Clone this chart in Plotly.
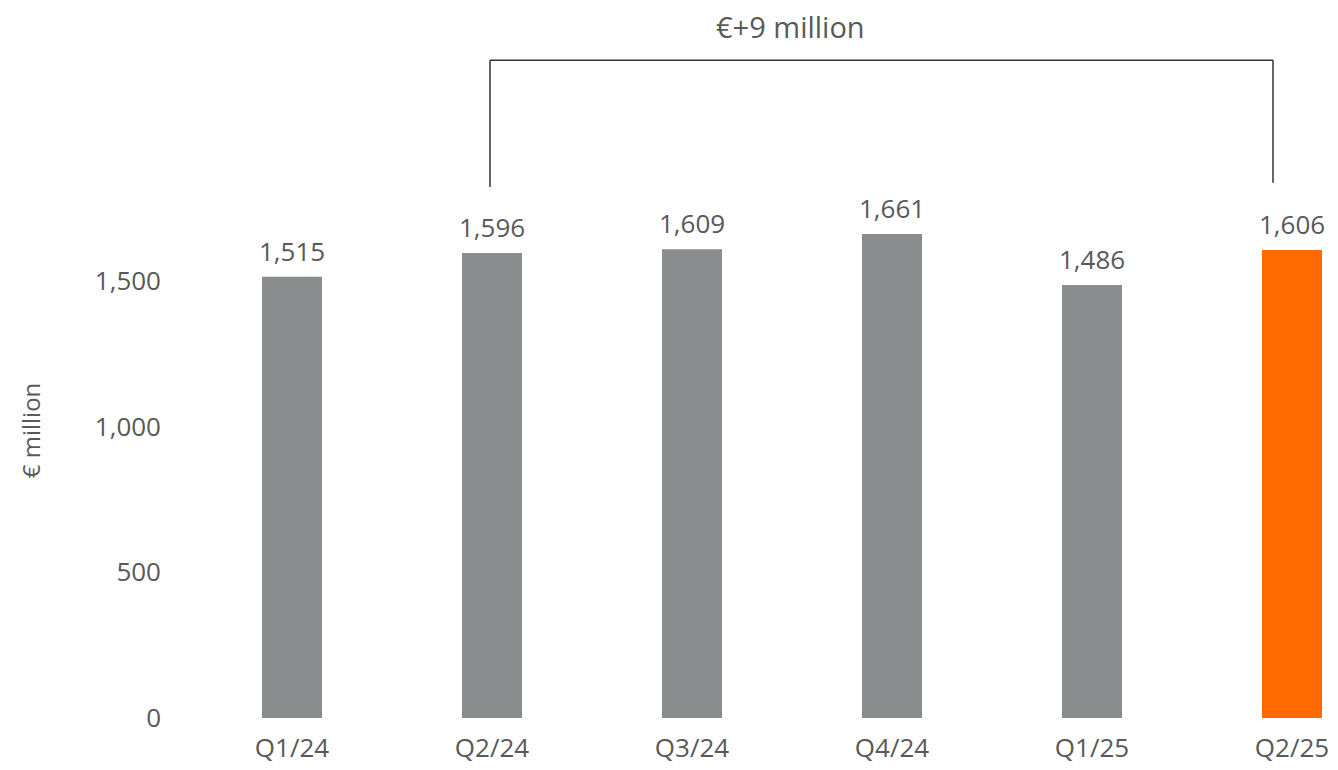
import plotly.graph_objects as go

categories = ["Q1/24", "Q2/24", "Q3/24", "Q4/24", "Q1/25", "Q2/25"]
values = [1515, 1596, 1609, 1661, 1486, 1606]
labels = ["1,515", "1,596", "1,609", "1,661", "1,486", "1,606"]
bar_colors = ["#8a8d8e"] * 5 + ["#ff6a00"]
y_ticks = [0, 500, 1000, 1500]
y_tick_labels = ["0", "500", "1,000", "1,500"]
delta_text = "€+9 million"
y_title = "€ million"

FONT = "Open Sans"
TXT = "#595959"

fig = go.Figure()
fig.add_trace(go.Bar(
    x=categories, y=values,
    marker=dict(color=bar_colors, line=dict(width=0)),
    width=0.3,
    hoverinfo="skip",
))

for c, v, t in zip(categories, values, labels):
    fig.add_annotation(x=c, y=v, text=t, showarrow=False, yanchor="bottom",
                       yshift=6, font=dict(family=FONT, size=26, color=TXT))

# bracket
xl, xr = 0.99, 4.905
yb_l, yb_r, yt = 1823, 1837, 2258
fig.add_shape(type="line", x0=xl, x1=xl, y0=yb_l, y1=yt, line=dict(color="#333333", width=1.5))
fig.add_shape(type="line", x0=xl, x1=xr, y0=yt, y1=yt, line=dict(color="#333333", width=1.5))
fig.add_shape(type="line", x0=xr, x1=xr, y0=yt, y1=yb_r, line=dict(color="#333333", width=1.5))
fig.add_annotation(x=2.49, y=2372, text=delta_text, showarrow=False,
                   xanchor="center", yanchor="middle", borderpad=0,
                   font=dict(family=FONT, size=29, color=TXT))

fig.add_annotation(xref="paper", x=-0.142, y=988, text=y_title, textangle=-90,
                   xanchor="center", yanchor="middle",
                   showarrow=False, font=dict(family=FONT, size=24, color=TXT))

fig.update_layout(
    width=1330, height=762,
    margin=dict(l=184, r=6, t=2, b=52),
    plot_bgcolor="white", paper_bgcolor="white",
    showlegend=False,
    xaxis=dict(range=[-0.5, 5.2], showgrid=False, showline=False, zeroline=False,
               ticks="", tickfont=dict(family=FONT, size=26, color=TXT),
               ticklabelstandoff=12),
    yaxis=dict(range=[0, 2430.2], showgrid=False, showline=False, zeroline=False,
               tickvals=y_ticks, ticktext=y_tick_labels, ticks="",
               tickfont=dict(family=FONT, size=26, color=TXT),
               ticklabelstandoff=30),
)

fig.write_html("out.html")
